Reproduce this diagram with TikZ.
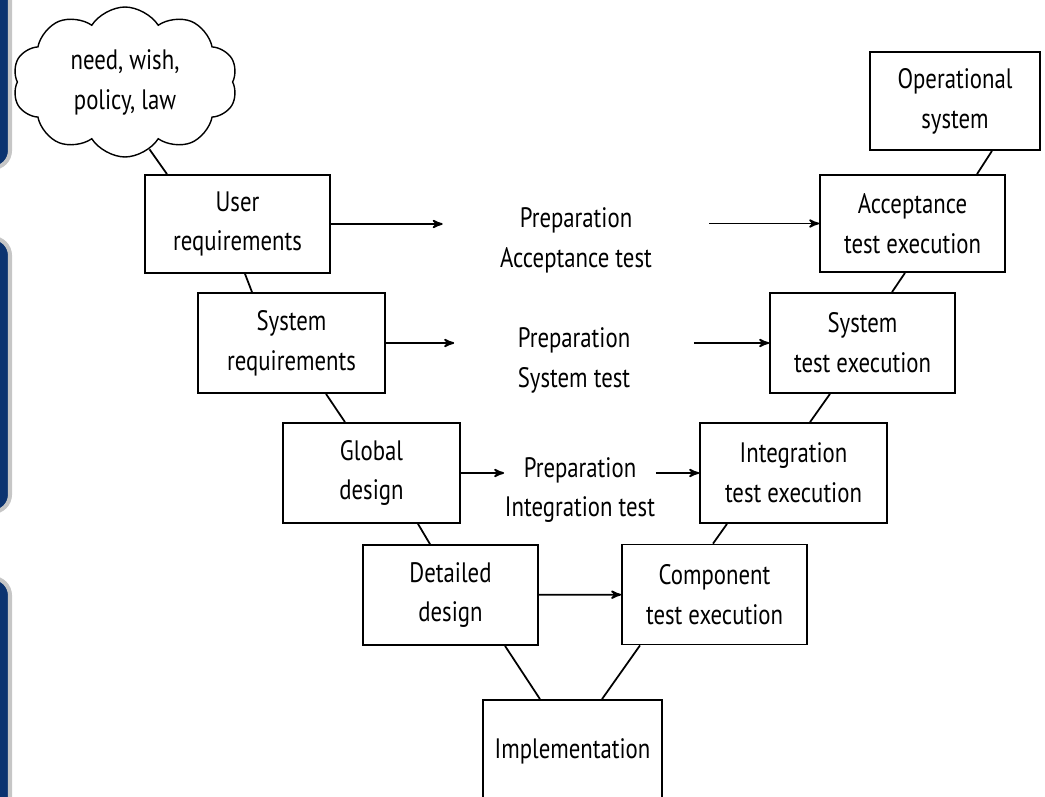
\documentclass[tikz,border=0pt]{standalone}
\usepackage{fontspec}
\setmainfont[FakeStretch=0.81]{PT Sans}
\usepackage{xcolor}
\usepackage{tikz}
\usetikzlibrary{arrows,shapes.symbols}
\definecolor{slideblue}{HTML}{0B3370}

\begin{document}
\begin{tikzpicture}[x=0.02cm,y=-0.02cm,line width=1pt,
  every node/.style={font=\fontsize{16}{22.7}\selectfont},
  box/.style={draw,rectangle,align=center,inner sep=0pt,minimum height=2cm},
  prep/.style={align=center,inner sep=0pt}]
\useasboundingbox (0,0) rectangle (1045,797);

% slide border on the left
\foreach \ya/\yb in {-40/168, 238/512, 578/840}
  \draw[gray!45,line width=2.3pt,fill=slideblue,rounded corners=0.35cm] (-30,\ya) rectangle (10,\yb);

\node[draw,cloud,cloud puffs=10,cloud puff arc=115,aspect=1.5,
      minimum width=4.5cm,minimum height=3cm,align=center,line width=0.8pt]
                      (C)  at (125,82)      {need, wish,\\policy, law};
\node[box,minimum width=3.7cm,minimum height=1.96cm]  (U)  at (237.5,224)   {User\\requirements};
\node[box,minimum width=3.74cm] (SR) at (291.5,343)   {System\\requirements};
\node[box,minimum width=3.54cm] (GD) at (371.5,473)   {Global\\design};
\node[box,minimum width=3.5cm]  (DD) at (450.5,595)   {Detailed\\design};
\node[box,minimum width=3.58cm,minimum height=2.04cm] (IM) at (572.5,751) {Implementation};
\node[box,minimum width=3.7cm]  (CT) at (714.5,594.5) {Component\\test execution};
\node[box,minimum width=3.74cm] (IT) at (793.5,473)   {Integration\\test execution};
\node[box,minimum width=3.7cm]  (ST) at (862.5,343)   {System\\test execution};
\node[box,minimum width=3.7cm,minimum height=1.94cm]  (AT) at (912.5,223.5) {Acceptance\\test execution};
\node[box,minimum width=3.4cm,minimum height=1.96cm]  (OS) at (955,101)     {Operational\\system};

\node[prep,minimum width=5.3cm]  (PA) at (576,240) {Preparation\\Acceptance test};
\node[prep,minimum width=4.76cm] (PS) at (574,360) {Preparation\\System test};
\node[prep]                      (PI) at (580,490) {Preparation\\Integration test};

\path[->,>=stealth']
      (U)  edge (U -| PA.west)
      (PA.east |- AT) edge (AT)
      (SR) edge (SR -| PS.west)
      (PS.east |- ST) edge (ST)
      (GD) edge (GD -| PI.west)
      (PI.east |- IT) edge (IT)
      (DD) edge (CT);

\draw (C.-70) -- ([xshift=-1.41cm]U.north);
\draw ([xshift=0.15cm]U.south)   -- ([xshift=-0.79cm]SR.north);
\draw ([xshift=0.69cm]SR.south)  -- ([xshift=-0.53cm]GD.north);
\draw ([xshift=0.93cm]GD.south)  -- ([xshift=-0.41cm]DD.north);
\draw ([xshift=1.09cm]DD.south)  -- ([xshift=-0.65cm]IM.north);
\draw ([xshift=-1.49cm]CT.south) -- ([xshift=0.59cm]IM.north);
\draw ([xshift=-1.33cm]IT.south) -- ([xshift=-0.03cm]CT.north);
\draw ([xshift=-0.65cm]ST.south) -- ([xshift=0.33cm]IT.north);
\draw ([xshift=-0.15cm]AT.south) -- ([xshift=0.59cm]ST.north);
\draw ([xshift=0.74cm]OS.south)  -- ([xshift=1.29cm]AT.north);

\end{tikzpicture}
\end{document}
